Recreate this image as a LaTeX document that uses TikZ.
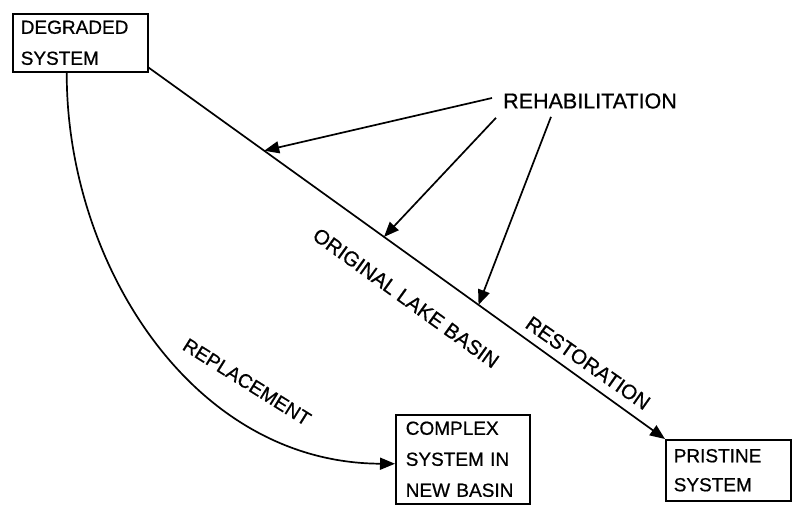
\documentclass[tikz,border=0pt]{standalone}
\usepackage{fontspec}
\setmainfont{Liberation Sans}[FakeBold=0.7]
\usetikzlibrary{arrows.meta}
\begin{document}
\begin{tikzpicture}[x=1pt,y=-1pt,
  boxnode/.style={draw,line width=1.5pt,anchor=north west,inner xsep=8pt,inner ysep=0pt,
    align=left,font=\fontsize{19}{31}\selectfont},
  lbl/.style={font=\fontsize{20.5}{24}\selectfont,inner sep=0pt},
  conn/.style={line width=1.7pt},
  arr/.style={conn,-{Triangle[length=15pt,width=12pt]}}]
\useasboundingbox (0,0) rectangle (792,506);
% boxes
\node[boxnode,minimum width=135pt,minimum height=58pt,text width=119pt] (deg) at (12,13) {DEGRADED\\SYSTEM};
\node[boxnode,minimum width=134pt,minimum height=89pt,inner xsep=10pt,text width=114pt] (cplx) at (395,414) {COMPLEX\\SYSTEM IN\\NEW BASIN};
\node[boxnode,minimum width=125pt,minimum height=61pt,text width=109pt,font=\fontsize{19}{29}\selectfont] (prist) at (665,439) {PRISTINE\\SYSTEM};
\node[lbl,anchor=west,font=\fontsize{21.5}{24}\selectfont] (rehab) at (503,101) {REHABILITATION};
% main line
\draw[arr] ([yshift=5pt]deg.south east) -- (prist.north west)
  coordinate[pos=0.224] (t1) coordinate[pos=0.456] (t2) coordinate[pos=0.639] (t3);
% replacement curve
\draw[arr] ([xshift=-13.5pt]deg.south) .. controls (66,260) and (190,463) .. ([yshift=-4.5pt]cplx.west);
% rehabilitation arrows
\draw[arr] ([xshift=-11pt,yshift=3pt]rehab.west) -- (t1);
\draw[arr] ([xshift=-7pt,yshift=-9pt]rehab.south west) -- (t2);
\draw[arr] ([xshift=48pt,yshift=-8pt]rehab.south west) -- (t3);
% labels
\node[lbl,rotate=-35.8] (olb) at (406,298) {ORIGINAL LAKE BASIN};
\node[lbl,rotate=-35] (rest) at (588,363) {RESTORATION};
\node[lbl,rotate=-32,font=\fontsize{19.5}{24}\selectfont] (repl) at (247,382) {REPLACEMENT};
\end{tikzpicture}
\end{document}
